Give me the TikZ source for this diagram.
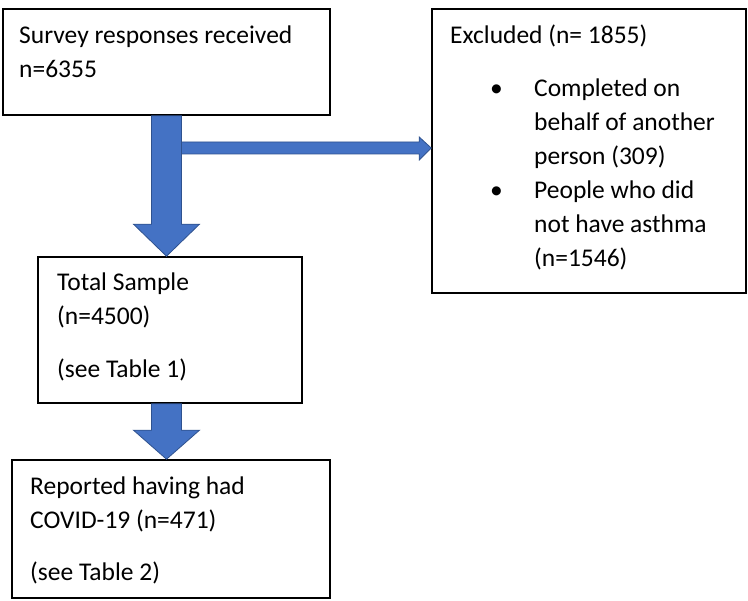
\documentclass[tikz,border=0pt]{standalone}
\usepackage{fontspec}
\setmainfont{Carlito}
\usetikzlibrary{calc}
\definecolor{arrowblue}{HTML}{4472C4}
\definecolor{arrowedge}{HTML}{2F528F}
\begin{document}
\begin{tikzpicture}[x=1pt,y=-1pt,
  box/.style={draw=black, line width=1.6pt, inner sep=0pt, fill=white},
  txt/.style={anchor=base west, inner sep=0pt, font=\fontsize{25.5}{34}\selectfont},
  blockarrow/.style={fill=arrowblue, draw=arrowedge, line width=0.8pt, line join=miter}]
\useasboundingbox (0,0) rectangle (748,601);
\fill[white] (0,0) rectangle (748,601);

% boxes
\node[box, minimum width=327pt, minimum height=106pt] (survey) at (166.5,62) {};
\node[box, minimum width=314pt, minimum height=284pt] (excl) at (589,151) {};
\node[box, minimum width=264pt, minimum height=146pt] (total) at (170,330) {};
\node[box, minimum width=318pt, minimum height=138pt] (report) at (171,529) {};

% texts
\node[txt] (s1) at (19,44) {Survey responses received};
\node[txt] (s2) at (19,78) {n=6355};

\node[txt] (e0) at (450,44) {Excluded (n= 1855)};
\node[txt] (b1) at (490,97) {•};
\node[txt] (e1) at (534,97) {Completed on};
\node[txt] (e2) at (534,131) {behalf of another};
\node[txt] (e3) at (534,165) {person (309)};
\node[txt] (b2) at (490,199) {•};
\node[txt] (e4) at (534,199) {People who did};
\node[txt] (e5) at (534,233) {not have asthma};
\node[txt] (e6) at (534,267) {(n=1546)};

\node[txt] (t1) at (57,291) {Total Sample};
\node[txt] (t2) at (57,325) {(n=4500)};
\node[txt] (t3) at (57,378) {(see Table 1)};

\node[txt] (r1) at (30,495) {Reported having had};
\node[txt] (r2) at (30,529) {COVID-19 (n=471)};
\node[txt] (r3) at (30,581) {(see Table 2)};

% arrow to excluded
\coordinate (rtip) at (excl.west |- 0,148);
\draw[blockarrow] (181,142) -- ($(rtip)+(-12,-6)$) -- ($(rtip)+(-12,-11)$) -- (rtip)
  -- ($(rtip)+(-12,12)$) -- ($(rtip)+(-12,6)$) -- (181,154);

% arrow survey -> total
\coordinate (d1s) at (survey.south);
\coordinate (d1t) at (survey.south |- total.north);
\draw[blockarrow] ($(d1s)+(-15,0)$) -- ($(d1s)+(15,0)$) -- ($(d1t)+(15,-32)$) -- ($(d1t)+(33,-32)$)
  -- (d1t) -- ($(d1t)+(-33,-32)$) -- ($(d1t)+(-15,-32)$) -- cycle;

% arrow total -> report
\coordinate (d2s) at (survey.south |- total.south);
\coordinate (d2t) at (survey.south |- report.north);
\draw[blockarrow] ($(d2s)+(-15,0)$) -- ($(d2s)+(15,0)$) -- ($(d2t)+(15,-29)$) -- ($(d2t)+(33,-29)$)
  -- (d2t) -- ($(d2t)+(-33,-29)$) -- ($(d2t)+(-15,-29)$) -- cycle;
\end{tikzpicture}
\end{document}
